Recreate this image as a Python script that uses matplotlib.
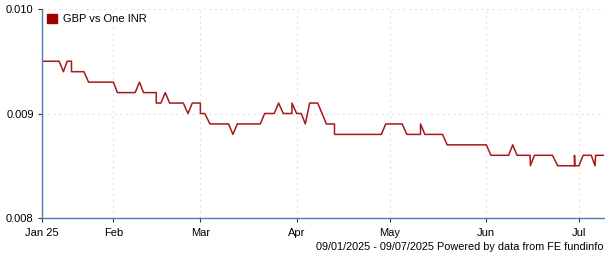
import numpy as np
import pandas as pd
import matplotlib
matplotlib.use("Agg")
import matplotlib.pyplot as plt
from matplotlib.patches import Patch

# =========================
# Data: GBP vs One INR, 09/01/2025 - 09/07/2025
# day offsets from 9 Jan 2025, value
# =========================

start = pd.Timestamp("2025-01-09")
end_day = 181

day = [0, 5.5, 6.9, 8.1, 9.5, 9.5, 13.5, 15.0, 23.0, 24.3,
       30.0, 31.4, 32.7, 36.8, 36.8, 38.3, 39.7, 41.1, 45.5, 47.0,
       48.4, 51.0, 51.0, 52.4, 54.1, 60.1, 61.5, 62.9, 70.3, 71.7,
       74.8, 76.2, 77.7, 80.5, 80.5, 82.0, 83.5, 84.8, 86.2, 88.8,
       91.6, 94.2, 94.2, 109.3, 110.7, 116.0, 117.5, 121.9, 121.9, 123.3,
       129.0, 130.5, 143.1, 144.6, 150.3, 151.6, 153.0, 157.2, 157.3, 158.6,
       164.4, 166.1, 171.5, 171.5, 171.6, 172.9, 174.3, 176.9, 178.1, 178.3,
       181.0]

rate = [0.0095, 0.0095, 0.0094, 0.0095, 0.0095, 0.0094, 0.0094, 0.0093, 0.0093, 0.0092,
        0.0092, 0.0093, 0.0092, 0.0092, 0.0091, 0.0091, 0.0092, 0.0091, 0.0091, 0.0090,
        0.0091, 0.0091, 0.0090, 0.0090, 0.0089, 0.0089, 0.0088, 0.0089, 0.0089, 0.0090,
        0.0090, 0.0091, 0.0090, 0.0090, 0.0091, 0.0090, 0.0090, 0.0089, 0.0091, 0.0091,
        0.0089, 0.0089, 0.0088, 0.0088, 0.0089, 0.0089, 0.0088, 0.0088, 0.0089, 0.0088,
        0.0088, 0.0087, 0.0087, 0.0086, 0.0086, 0.0087, 0.0086, 0.0086, 0.0085, 0.0086,
        0.0086, 0.0085, 0.0085, 0.0086, 0.0085, 0.0085, 0.0086, 0.0086, 0.0085, 0.0086,
        0.0086]

month_ticks = ["2025-01-09", "2025-02-01", "2025-03-01", "2025-04-01",
               "2025-05-01", "2025-06-01", "2025-07-01"]
month_labels = ["Jan 25", "Feb", "Mar", "Apr", "May", "Jun", "Jul"]

y_ticks = [0.008, 0.009, 0.010]
y_labels = ["0.008", "0.009", "0.010"]

series_name = "GBP vs One INR"
footer = "09/01/2025 - 09/07/2025 Powered by data from FE fundinfo"

# =========================
# Plot
# =========================

plt.rcParams["font.family"] = ["Liberation Sans", "DejaVu Sans"]

dates = start + pd.to_timedelta(day, unit="D")
axis_blue = "#4f7db3"
line_red = "#a00000"

fig = plt.figure(figsize=(6.05, 2.6), dpi=100)
ax = fig.add_axes([42 / 605, 42 / 260, 562 / 605, 209 / 260])

ax.plot(dates, rate, color="#a81818", linewidth=1.1, label=series_name)

ax.set_xlim(start, start + pd.Timedelta(days=end_day))
ax.set_ylim(0.008, 0.010)

ax.set_xticks(pd.to_datetime(month_ticks))
ax.set_xticklabels(month_labels)
ax.set_yticks(y_ticks)
ax.set_yticklabels(y_labels)

ax.tick_params(axis="both", labelsize=8, length=3, width=0.8,
               color="#333333", pad=3)
ax.tick_params(axis="x", pad=4)

# dotted light grid
ax.grid(True, linestyle=(0, (2, 3)), color="#e2e2e2", linewidth=0.8)
ax.set_axisbelow(True)

for side in ["top", "right"]:
    ax.spines[side].set_visible(False)
for side in ["left", "bottom"]:
    ax.spines[side].set_color(axis_blue)
    ax.spines[side].set_linewidth(1.0)

# square swatch in the legend
ax.legend(handles=[Patch(facecolor=line_red, edgecolor=line_red, label=series_name)],
          loc="upper left", frameon=False, fontsize=8,
          handlelength=0.9, handleheight=0.9, handletextpad=0.5,
          borderaxespad=0.3, borderpad=0.15)

fig.text(604 / 605, 1 - 247 / 260, footer, ha="right", va="center", fontsize=7.8)

fig.savefig("out.png", dpi=100)
